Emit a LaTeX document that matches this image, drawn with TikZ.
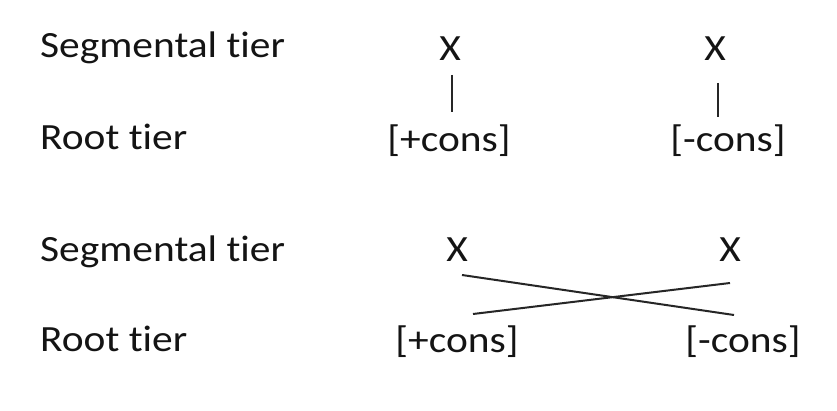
\documentclass[tikz,border=0pt]{standalone}
\usepackage{fontspec}
\setmainfont[Ligatures={NoCommon}]{Carlito}
\newcommand{\hsx}[1]{\scalebox{1.12}[1]{#1}}
\tikzset{
  txt/.style={font=\fontsize{37}{40}\selectfont, inner sep=0pt, text=black!92},
  lab/.style={txt, anchor=base west},
  seg/.style={txt, anchor=base},
  assoc/.style={draw=black!85, line width=2pt}
}
\begin{document}
\begin{tikzpicture}[x=1pt,y=-1pt]
\path[fill=white, use as bounding box] (0,0) rectangle (837,411);
% top diagram
\node[lab] (s1) at (40,58) {\hsx{Segmental tier}};
\node[lab] (r1) at (40,150) {\hsx{Root tier}};
\node[seg] (xa) at (450,61) {\hsx{X}};
\node[seg] (xb) at (715,61) {\hsx{X}};
\node[seg] (ca) at (449,152) {\hsx{[+cons]}};
\node[seg] (cb) at (728,152) {\hsx{[-cons]}};
\draw[assoc] ([shift={(2,14)}]xa.base) -- ([shift={(3,-40)}]ca.base);
\draw[assoc] ([shift={(3,22)}]xb.base) -- ([shift={(-10,-35)}]cb.base);
% bottom diagram
\node[lab] (s2) at (40,262) {\hsx{Segmental tier}};
\node[lab] (r2) at (40,351) {\hsx{Root tier}};
\node[seg] (xc) at (457,262) {\hsx{X}};
\node[seg] (xd) at (730,262) {\hsx{X}};
\node[seg] (cc) at (457,352) {\hsx{[+cons]}};
\node[seg] (cd) at (743,352) {\hsx{[-cons]}};
\draw[assoc] ([shift={(5,13)}]xc.base) -- ([shift={(-9,-37)}]cd.base);
\draw[assoc] ([shift={(16,-38)}]cc.base) -- ([shift={(0,21)}]xd.base);
\end{tikzpicture}
\end{document}
